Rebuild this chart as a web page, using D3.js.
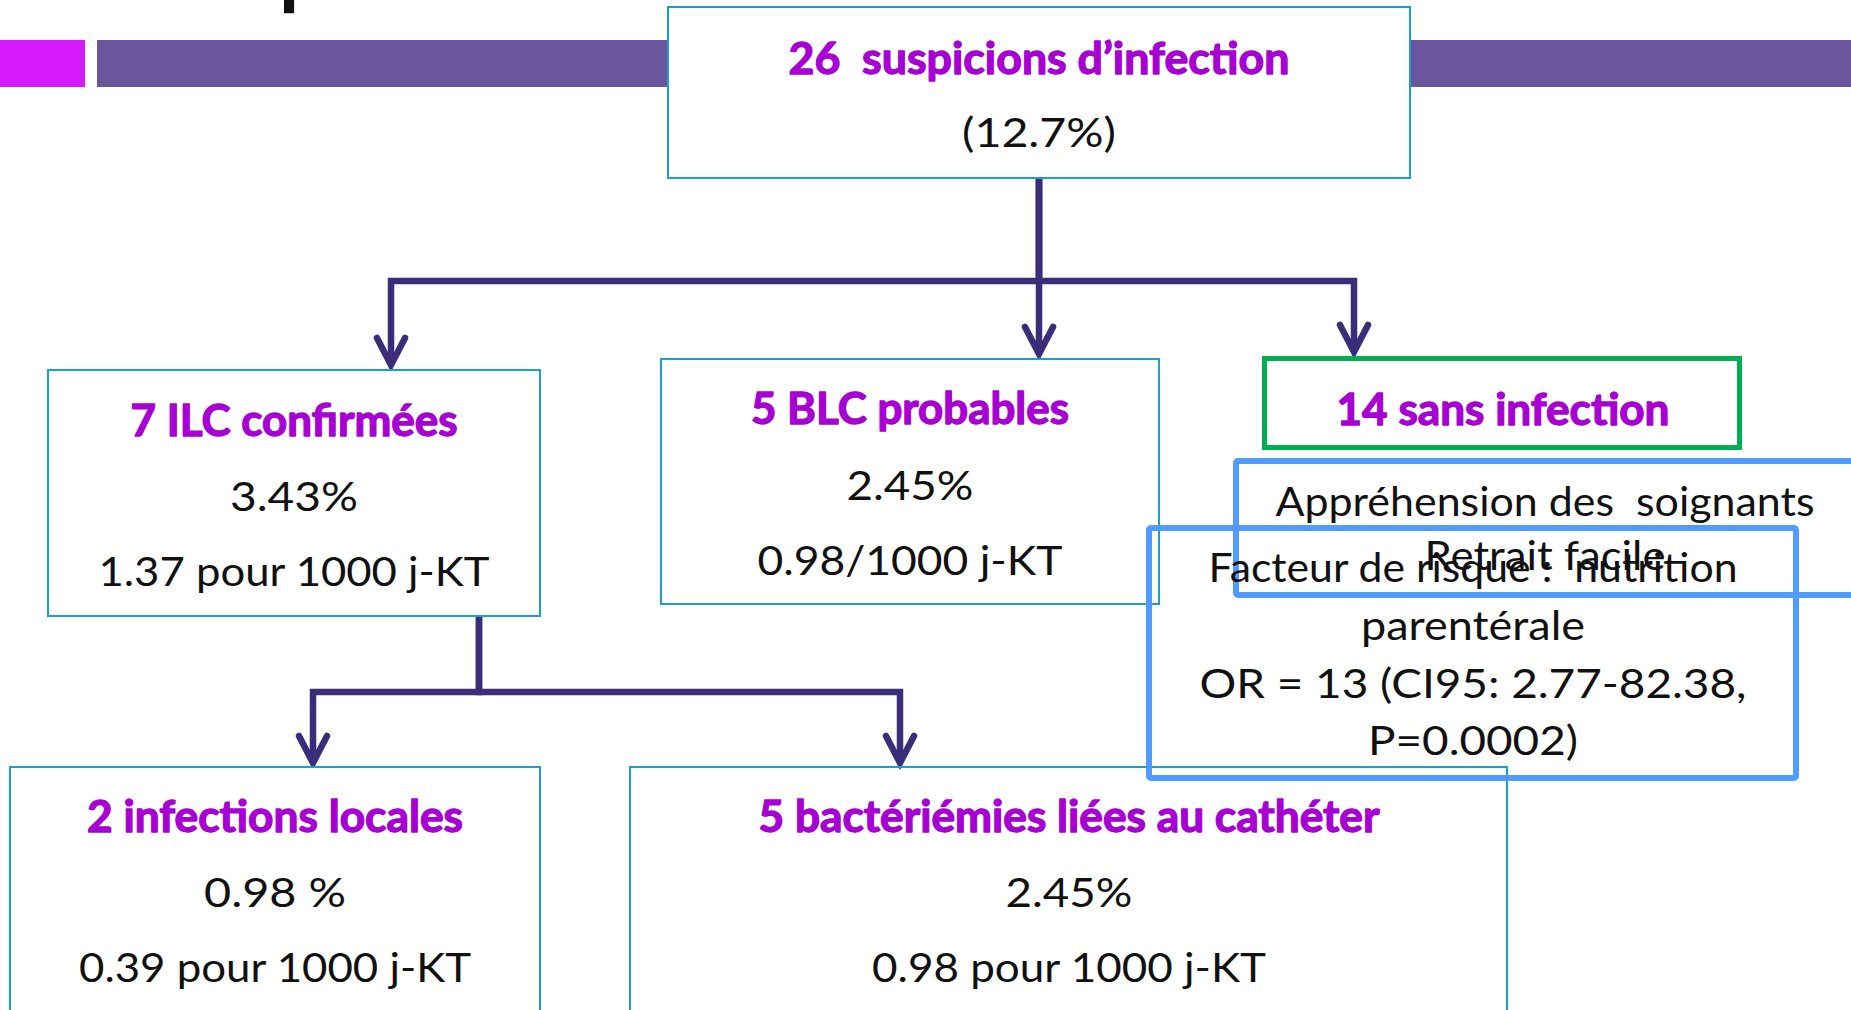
<!DOCTYPE html>
<html>
<head>
<meta charset="utf-8">
<script src="https://cdn.jsdelivr.net/npm/d3@7"></script>
<style>
  html, body { margin: 0; padding: 0; background: #ffffff; overflow: hidden; }
  svg { display: block; }
  text { white-space: pre; }
</style>
</head>
<body>
<svg id="chart" width="1851" height="1010"></svg>
<script>
// ---------------- DATA ----------------
const nodeIds = ["suspicions", "ilc", "blc", "sans", "locales", "bacteriemies"];
const nodeTitles = [
  "26  suspicions d\u2019infection",
  "7 ILC confirmées",
  "5 BLC probables",
  "14 sans infection",
  "2 infections locales",
  "5 bactériémies liées au cathéter"
];
const nodeRates = ["(12.7%)", "3.43%", "2.45%", "", "0.98 %", "2.45%"];
const nodeDensities = ["", "1.37 pour 1000 j-KT", "0.98/1000 j-KT", "", "0.39 pour 1000 j-KT", "0.98 pour 1000 j-KT"];
const linkSources = ["suspicions", "suspicions", "suspicions", "ilc", "ilc"];
const linkTargets = ["ilc", "blc", "sans", "locales", "bacteriemies"];
const noteApprehension = ["Appréhension des  soignants", "Retrait facile"];
const noteFacteur = ["Facteur de risque :  nutrition", "parentérale", "OR = 13 (CI95: 2.77-82.38,", "P=0.0002)"];
const headerFragment = ["p"];

// ---------------- LAYOUT / STYLE ----------------
const C = {
  title: "#a600d2",
  text: "#111111",
  magenta: "#d61cff",
  bar: "#6b559d",
  link: "#3c2d7b",
  thin: "#1a9fd0",
  green: "#00b050",
  blue: "#4f9bff"
};
const FONT = "Lato, 'Noto Sans', sans-serif";

const layout = {
  suspicions:   {x: 668, y: 7,   w: 742, h: 171, cx: 1039, rows: [74, 147],      widths: [501, 154],      stroke: C.thin, sw: 2, fill: "#fff"},
  ilc:          {x: 48,  y: 370, w: 492, h: 246, cx: 294,  rows: [436, 511, 586], widths: [327, 128, 391], stroke: C.thin, sw: 2, fill: "#fff"},
  blc:          {x: 661, y: 359, w: 498, h: 245, cx: 910,  rows: [424, 500, 575], widths: [318, 127, 305], stroke: C.thin, sw: 2, fill: "#fff"},
  sans:         {x: 1264.5, y: 358.5, w: 475, h: 89, cx: 1503, rows: [425],      widths: [333],           stroke: C.green, sw: 5, fill: "#fff"},
  locales:      {x: 10,  y: 767, w: 530, h: 320, cx: 275,  rows: [832, 907, 982], widths: [376, 142, 392], stroke: C.thin, sw: 2, fill: "#fff"},
  bacteriemies: {x: 630, y: 767, w: 877, h: 320, cx: 1069, rows: [832, 907, 982], widths: [621, 127, 394], stroke: C.thin, sw: 2, fill: "none"}
};
// connector anchor geometry
const linkGeom = {
  "suspicions-ilc":          {sx: 1039, sy: 178, jy: 281, tx: 391,  ty: 368},
  "suspicions-blc":          {sx: 1039, sy: 178, jy: 281, tx: 1039, ty: 357},
  "suspicions-sans":         {sx: 1039, sy: 178, jy: 281, tx: 1354, ty: 355},
  "ilc-locales":             {sx: 479,  sy: 616, jy: 692, tx: 313,  ty: 766},
  "ilc-bacteriemies":        {sx: 479,  sy: 616, jy: 692, tx: 900,  ty: 766}
};
const noteBoxes = [
  {x: 1236, y: 461, w: 700, h: 134, cx: 1545, rows: [516, 570], widths: [539, 241], lines: noteApprehension},
  {x: 1149, y: 528, w: 647, h: 250, cx: 1473, rows: [582, 640, 698, 755], widths: [529, 224, 547, 210], lines: noteFacteur}
];

const svg = d3.select("#chart");

// ---------------- HEADER DECORATION ----------------
svg.append("rect").attr("x", 0).attr("y", 40).attr("width", 85).attr("height", 47).attr("fill", C.magenta);
svg.append("rect").attr("x", 97).attr("y", 40).attr("width", 1851 - 97).attr("height", 47).attr("fill", C.bar);
svg.selectAll("text.header").data(headerFragment).join("text")
  .attr("class", "header")
  .attr("x", 279).attr("y", -1)
  .attr("font-family", FONT).attr("font-weight", 700).attr("font-size", 82)
  .attr("fill", "#111").text(d => d);

// ---------------- CONNECTORS ----------------
const links = linkSources.map((s, i) => ({source: s, target: linkTargets[i]}));
const gLinks = svg.append("g")
  .attr("fill", "none").attr("stroke", C.link).attr("stroke-width", 6.5);

gLinks.selectAll("path.trunk").data(links).join("path")
  .attr("class", "trunk")
  .attr("stroke-linejoin", "miter")
  .attr("d", d => {
    const g = linkGeom[d.source + "-" + d.target];
    const p = d3.path();
    p.moveTo(g.sx, g.sy);
    p.lineTo(g.sx, g.jy);
    p.lineTo(g.tx, g.jy);
    p.lineTo(g.tx, g.ty - 6);
    return p.toString();
  });

gLinks.selectAll("path.head").data(links).join("path")
  .attr("class", "head")
  .attr("stroke-linecap", "round")
  .attr("stroke-linejoin", "miter")
  .attr("d", d => {
    const g = linkGeom[d.source + "-" + d.target];
    const p = d3.path();
    p.moveTo(g.tx - 14, g.ty - 30);
    p.lineTo(g.tx, g.ty - 3);
    p.lineTo(g.tx + 14, g.ty - 30);
    return p.toString();
  });

// ---------------- NODES ----------------
const nodes = nodeIds.map((id, i) => ({
  id, lines: [nodeTitles[i], nodeRates[i], nodeDensities[i]].filter(t => t !== ""), L: layout[id]
}));

const gNodes = svg.selectAll("g.node").data(nodes).join("g").attr("class", "node");
gNodes.append("rect")
  .attr("x", d => d.L.x).attr("y", d => d.L.y)
  .attr("width", d => d.L.w).attr("height", d => d.L.h)
  .attr("fill", d => d.L.fill)
  .attr("stroke", d => d.L.stroke)
  .attr("stroke-width", d => d.L.sw);

gNodes.selectAll("text")
  .data(d => d.lines.map((t, j) => ({t, j, L: d.L})))
  .join("text")
  .attr("x", d => d.L.cx)
  .attr("y", d => d.L.rows[d.j])
  .attr("text-anchor", "middle")
  .attr("font-family", FONT)
  .attr("font-weight", d => d.j === 0 ? 700 : 400)
  .attr("font-size", d => d.j === 0 ? 43 : 41)
  .attr("fill", d => d.j === 0 ? C.title : C.text)
  .attr("stroke", d => d.j === 0 ? C.title : "none")
  .attr("stroke-width", d => d.j === 0 ? 1.3 : 0)
  .attr("stroke-linejoin", "round")
  .attr("textLength", d => d.L.widths[d.j])
  .attr("lengthAdjust", "spacingAndGlyphs")
  .text(d => d.t);

// ---------------- NOTE BOXES (blue, transparent) ----------------
const gNotes = svg.selectAll("g.note").data(noteBoxes).join("g").attr("class", "note");
gNotes.append("rect")
  .attr("x", d => d.x).attr("y", d => d.y)
  .attr("width", d => d.w).attr("height", d => d.h)
  .attr("fill", "none").attr("stroke", C.blue).attr("stroke-width", 6)
  .attr("rx", 2);
gNotes.selectAll("text")
  .data(d => d.lines.map((t, j) => ({t, j, b: d})))
  .join("text")
  .attr("x", d => d.b.cx)
  .attr("y", d => d.b.rows[d.j])
  .attr("text-anchor", "middle")
  .attr("font-family", FONT)
  .attr("font-size", 41)
  .attr("fill", C.text)
  .attr("textLength", d => d.b.widths[d.j])
  .attr("lengthAdjust", "spacingAndGlyphs")
  .text(d => d.t);
</script>
</body>
</html>
